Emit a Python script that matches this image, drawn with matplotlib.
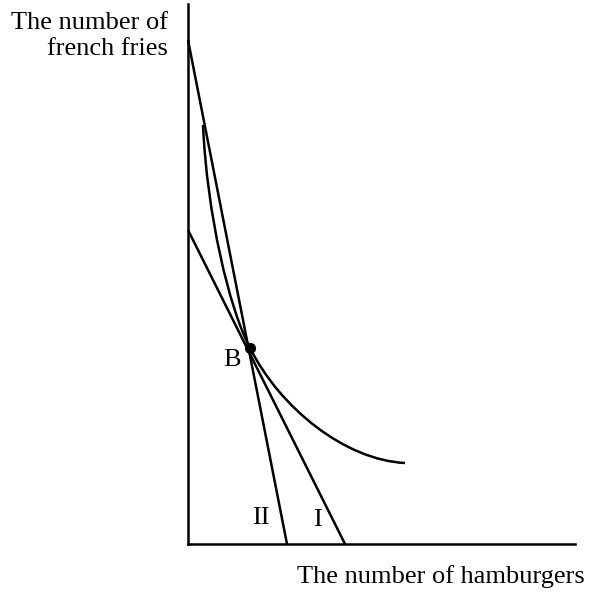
import matplotlib
matplotlib.use("Agg")
import matplotlib.pyplot as plt
from matplotlib.path import Path
from matplotlib.patches import PathPatch

plt.rcParams['font.family'] = ['Liberation Serif', 'DejaVu Serif']

# budget lines: (intercept on fries axis, intercept on hamburger axis)
line_II = [(0, 504), (99, 0)]
line_I = [(0, 314), (157, 0)]
point_B = (62, 196)

# indifference curve as two cubic bezier pieces, meeting at B
curve_pts = [(15, 419), (19, 330), (41, 236), (62, 196),
             (92, 136), (157, 84), (217, 81)]
curve_codes = [Path.MOVETO, Path.CURVE4, Path.CURVE4, Path.CURVE4,
               Path.CURVE4, Path.CURVE4, Path.CURVE4]

labels = ["II", "I", "B"]
label_pos = [(73, 26), (129, 24), (44, 184)]

fig = plt.figure(figsize=(5.92, 5.94), dpi=100)
ax = fig.add_axes([188/592, 50/594, 387/592, 540/594])
ax.set_xlim(0, 387)
ax.set_ylim(0, 540)
for s in ['top', 'right']:
    ax.spines[s].set_visible(False)
for s in ['left', 'bottom']:
    ax.spines[s].set_linewidth(1.8)
ax.set_xticks([])
ax.set_yticks([])

for ln in [line_II, line_I]:
    xs = [p[0] for p in ln]
    ys = [p[1] for p in ln]
    ax.plot(xs, ys, color='black', lw=1.8, solid_capstyle='butt', clip_on=False)

ax.add_patch(PathPatch(Path(curve_pts, curve_codes), fill=False,
                       edgecolor='black', lw=1.8))
ax.plot(*point_B, 'o', color='black', markersize=7)

for t, (x, y) in zip(labels, label_pos):
    ax.text(x, y, t, fontsize=19, ha='center', va='center')

fig.text(168/592, 1 - 36/594, "The number of\nfrench fries", fontsize=19,
         ha='right', va='center', multialignment='right')
fig.text(441/592, 1 - 577/594, "The number of hamburgers", fontsize=19,
         ha='center', va='center')

fig.savefig("out.png", dpi=100)
